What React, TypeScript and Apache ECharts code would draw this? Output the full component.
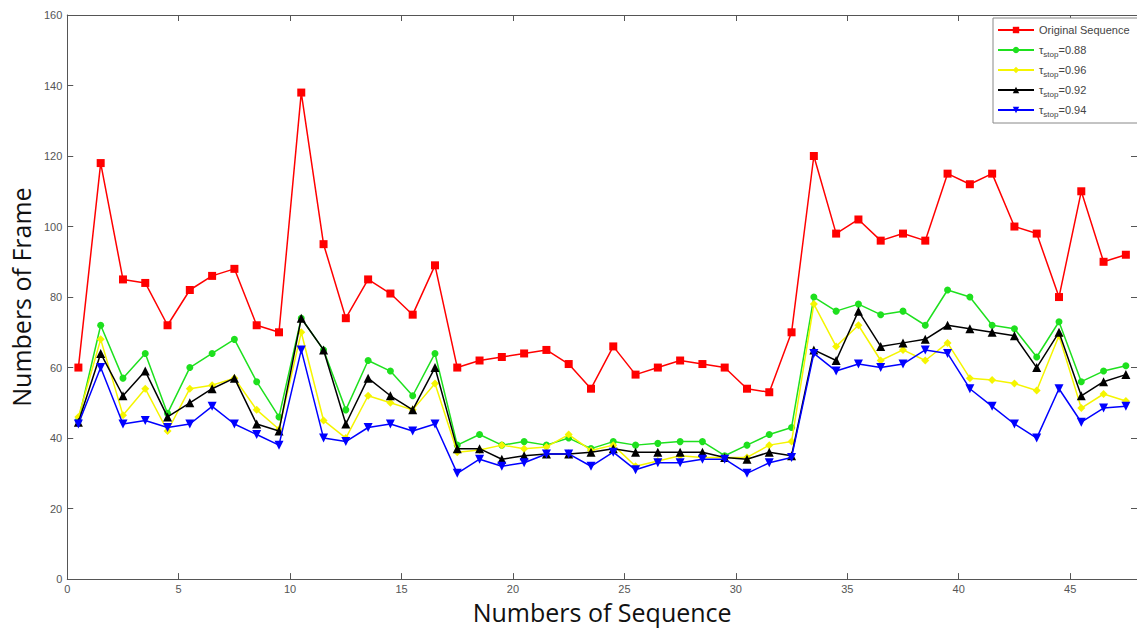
import React, { useEffect, useRef } from "react";
import * as echarts from "echarts";

const xPositions = [
  0.5, 1.5, 2.5, 3.5, 4.5, 5.5, 6.5, 7.5, 8.5, 9.5, 10.5, 11.5, 12.5, 13.5, 14.5, 15.5,
  16.5, 17.5, 18.5, 19.5, 20.5, 21.5, 22.5, 23.5, 24.5, 25.5, 26.5, 27.5, 28.5, 29.5, 30.5, 31.5,
  32.5, 33.5, 34.5, 35.5, 36.5, 37.5, 38.5, 39.5, 40.5, 41.5, 42.5, 43.5, 44.5, 45.5, 46.5, 47.5,
];

const original = [
  60, 118, 85, 84, 72, 82, 86, 88, 72, 70, 138, 95, 74, 85, 81, 75,
  89, 60, 62, 63, 64, 65, 61, 54, 66, 58, 60, 62, 61, 60, 54, 53,
  70, 120, 98, 102, 96, 98, 96, 115, 112, 115, 100, 98, 80, 110, 90, 92,
];
const tau088 = [
  45, 72, 57, 64, 47, 60, 64, 68, 56, 46, 74, 65, 48, 62, 59, 52,
  64, 38, 41, 38, 39, 38, 40, 37, 39, 38, 38.5, 39, 39, 35, 38, 41,
  43, 80, 76, 78, 75, 76, 72, 82, 80, 72, 71, 63, 73, 56, 59, 60.5,
];
const tau096 = [
  46, 68, 46.5, 54, 42, 54, 55, 57, 48, 42.5, 70, 45, 40, 52, 50, 48,
  55.5, 36, 36.6, 38, 37, 37.5, 41, 36.5, 38, 32, 33.5, 35, 34.5, 34.5, 34.5, 38,
  39, 78, 66, 72, 62, 65, 62, 67, 57, 56.5, 55.5, 53.5, 69, 48.5, 52.5, 50.5,
];
const tau092 = [
  44.5, 64, 52, 59, 46, 50, 54, 57, 44, 42, 74, 65, 44, 57, 52, 48,
  60, 37, 37, 34, 35, 35.5, 35.5, 36, 37, 36, 36, 36, 36, 34.5, 34, 36,
  35, 65, 62, 76, 66, 67, 68, 72, 71, 70, 69, 60, 70, 52, 56, 58,
];
const tau094 = [
  44, 60, 44, 45, 43, 44, 49, 44, 41, 38, 65, 40, 39, 43, 44, 42,
  44, 30, 34, 32, 33, 35.5, 35.5, 32, 36, 31, 33, 33, 34, 34, 30, 33,
  34.5, 64, 59, 61, 60, 61, 65, 64, 54, 49, 44, 40, 54, 44.5, 48.5, 49,
];

const seriesNames = [
  "Original Sequence",
  "τstop=0.88",
  "τstop=0.96",
  "τstop=0.92",
  "τstop=0.94",
];
const seriesColors = ["#ff0000", "#1ee01e", "#f5f500", "#000000", "#0000ff"];
const seriesSymbols = ["rect", "circle", "diamond", "triangle", "triangle"];
const seriesSymbolRotate = [0, 0, 0, 0, 180];
const seriesSymbolSize = [8, 7, 8, 9, 9];
const seriesData = [original, tau088, tau096, tau092, tau094];

const xTickLabels = ["0", "5", "10", "15", "20", "25", "30", "35", "40", "45"];

export default function App() {
  const ref = useRef<HTMLDivElement>(null);

  useEffect(() => {
    if (!ref.current) return;
    const chart = echarts.init(ref.current, undefined, { renderer: "svg" });

    const axisLineStyle = { color: "#555", width: 1 };
    const series = seriesData.map((vals, i) => ({
      name: seriesNames[i],
      type: "line",
      data: vals.map((v, j) => [xPositions[j], v]),
      symbol: seriesSymbols[i],
      symbolRotate: seriesSymbolRotate[i],
      symbolSize: seriesSymbolSize[i],
      showAllSymbol: true,
      lineStyle: { color: seriesColors[i], width: 1.5 },
      itemStyle: { color: seriesColors[i] },
      emphasis: { disabled: true },
      z: 2 + i,
    }));

    const font = "Arial, 'Liberation Sans', sans-serif";

    chart.setOption({
      animation: false,
      backgroundColor: "#ffffff",
      grid: { left: 65, right: 0, top: 15, bottom: 49, containLabel: false },
      legend: {
        orient: "vertical",
        left: 993,
        top: 18,
        data: seriesNames,
        itemWidth: 36,
        itemHeight: 8,
        itemGap: 4,
        padding: [4, 8, 5, 4],
        backgroundColor: "#ffffff",
        borderColor: "#888",
        borderWidth: 1,
        borderRadius: 0,
        formatter: (name: string) => {
          if (name.startsWith("τstop")) {
            return "{t|τ}{s|stop}{n|" + name.slice(5) + "}";
          }
          return "{n|" + name + "}";
        },
        textStyle: {
          color: "#444",
          fontFamily: font,
          fontSize: 11,
          lineHeight: 16,
          rich: {
            n: { fontSize: 11, color: "#444", fontFamily: font, lineHeight: 16 },
            t: { fontSize: 11, color: "#444", fontFamily: font, lineHeight: 16 },
            s: {
              fontSize: 8,
              color: "#444",
              lineHeight: 16,
              verticalAlign: "bottom",
              fontFamily: font,
            },
          },
        },
      },
      xAxis: [
        {
          type: "value",
          min: 0,
          max: 48,
          interval: 5,
          name: "Numbers of Sequence",
          nameLocation: "middle",
          nameGap: 14,
          nameTextStyle: { fontSize: 25, color: "#111", fontFamily: "'Open Sans', 'Noto Sans', sans-serif" },
          axisLine: { show: true, lineStyle: axisLineStyle },
          axisTick: { show: true, inside: true, length: 6, lineStyle: axisLineStyle },
          axisLabel: {
            color: "#555",
            fontSize: 11,
            margin: 4,
            showMaxLabel: false,
            fontFamily: font,
            formatter: (v: number) => (xTickLabels.includes(String(v)) ? String(v) : ""),
          },
          splitLine: { show: false },
        },
        {
          type: "value",
          position: "top",
          min: 0,
          max: 48,
          interval: 5,
          axisLine: { show: true, onZero: false, lineStyle: axisLineStyle },
          axisTick: { show: true, inside: true, length: 6, lineStyle: axisLineStyle },
          axisLabel: { show: false },
          splitLine: { show: false },
        },
      ],
      yAxis: [
        {
          type: "value",
          min: 0,
          max: 160,
          interval: 20,
          name: "Numbers of Frame",
          nameLocation: "middle",
          nameGap: 19,
          nameTextStyle: { fontSize: 25, color: "#111", fontFamily: "'Open Sans', 'Noto Sans', sans-serif" },
          axisLine: { show: true, lineStyle: axisLineStyle },
          axisTick: { show: true, inside: true, length: 6, lineStyle: axisLineStyle },
          axisLabel: {
            color: "#555",
            fontSize: 11,
            margin: 5,
            fontFamily: font,
          },
          splitLine: { show: false },
        },
        {
          type: "value",
          position: "right",
          min: 0,
          max: 160,
          interval: 20,
          axisLine: { show: true, onZero: false, lineStyle: axisLineStyle },
          axisTick: { show: true, inside: true, length: 6, lineStyle: axisLineStyle },
          axisLabel: { show: false },
          splitLine: { show: false },
        },
      ],
      series,
    });

    return () => chart.dispose();
  }, []);

  return (
    <div
      ref={ref}
      style={{ position: "fixed", left: 0, top: 0, width: 1137, height: 629, background: "#fff" }}
    />
  );
}
